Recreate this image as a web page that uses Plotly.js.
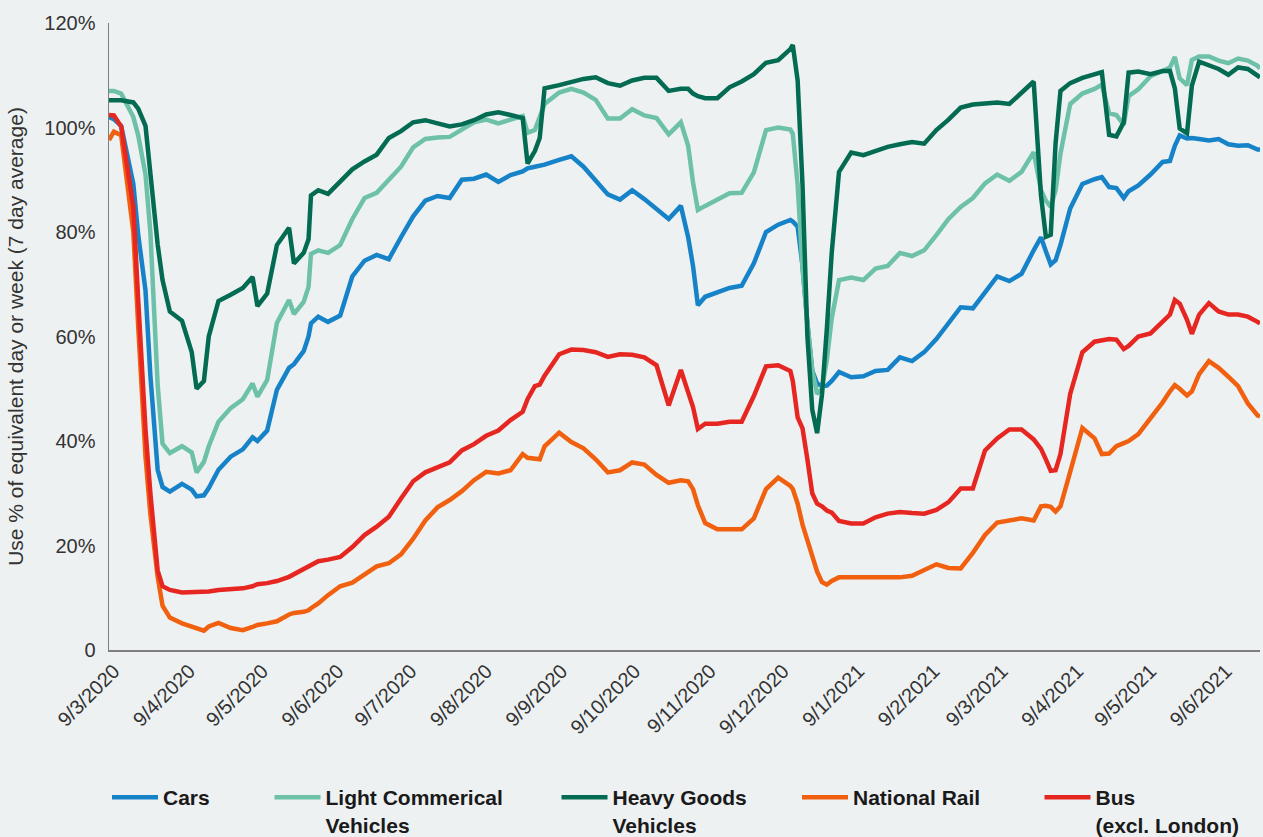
<!DOCTYPE html>
<html>
<head>
<meta charset="utf-8">
<script src="https://cdn.plot.ly/plotly-3.0.1.min.js"></script>
<style>html,body{margin:0;padding:0;background:#eef1f2;}#chart{width:1263px;height:837px;}</style>
</head>
<body>
<div id="chart"></div>
<script>
const dates = ['2020-03-07','2020-03-09','2020-03-12','2020-03-17','2020-03-19','2020-03-22','2020-03-24','2020-03-27','2020-03-29','2020-04-01',
'2020-04-06','2020-04-10','2020-04-12','2020-04-15','2020-04-17','2020-04-21','2020-04-26','2020-05-01','2020-05-05','2020-05-07',
'2020-05-11','2020-05-15','2020-05-20','2020-05-22','2020-05-26','2020-05-28','2020-05-29','2020-06-01','2020-06-05','2020-06-10',
'2020-06-15','2020-06-20','2020-06-25','2020-06-30','2020-07-05','2020-07-10','2020-07-15','2020-07-20','2020-07-25','2020-07-30',
'2020-08-04','2020-08-09','2020-08-14','2020-08-19','2020-08-24','2020-08-26','2020-08-29','2020-08-31','2020-09-02','2020-09-08',
'2020-09-13','2020-09-18','2020-09-23','2020-09-28','2020-10-03','2020-10-08','2020-10-13','2020-10-18','2020-10-23','2020-10-28',
'2020-10-31','2020-11-02','2020-11-04','2020-11-07','2020-11-12','2020-11-17','2020-11-22','2020-11-27','2020-12-02','2020-12-07',
'2020-12-12','2020-12-13','2020-12-15','2020-12-17','2020-12-19','2020-12-21','2020-12-23','2020-12-25','2020-12-27','2020-12-29',
'2021-01-01','2021-01-06','2021-01-11','2021-01-16','2021-01-21','2021-01-26','2021-01-31','2021-02-05','2021-02-10','2021-02-15',
'2021-02-20','2021-02-25','2021-03-02','2021-03-07','2021-03-12','2021-03-17','2021-03-22','2021-03-25','2021-03-27','2021-03-29',
'2021-03-31','2021-04-02','2021-04-06','2021-04-11','2021-04-16','2021-04-19','2021-04-22','2021-04-25','2021-04-28','2021-04-30',
'2021-05-04','2021-05-09','2021-05-14','2021-05-17','2021-05-19','2021-05-21','2021-05-24','2021-05-26','2021-05-29','2021-06-02',
'2021-06-06','2021-06-10','2021-06-14','2021-06-18','2021-06-22','2021-06-23'];

const cars = [102,101.6,100.3,89.2,79.5,68.8,52.5,34.5,31.2,30.3,
31.8,30.7,29.4,29.6,31,34.5,37,38.4,40.7,40,
42,49.8,54,54.7,57.2,60,62.5,63.8,62.8,64,
71.5,74.5,75.6,74.8,79,83,86,86.9,86.5,90,
90.2,91,89.6,90.9,91.6,92.2,92.5,92.6,92.9,93.8,
94.5,92.5,90,87.2,86.2,88,86.3,84.5,82.5,85,
79,73.5,66,67.6,68.5,69.3,69.7,74,80,81.4,
82.3,82,81,73.5,62.5,53.5,51,50.5,50.6,51.5,
53.2,52.2,52.4,53.4,53.6,56,55.3,57,59.5,62.5,
65.6,65.4,68.6,71.5,70.6,72,76.5,79,76.3,73.8,
74.6,77.5,84.5,89.2,90.1,90.5,88.6,88.4,86.5,87.8,
88.9,91,93.4,93.6,96.5,98.5,97.9,98,97.8,97.5,
97.8,96.8,96.5,96.6,95.8,95.8];

const lcv = [107,107,106.5,102,98.5,91,80,50.7,39.5,37.7,
39,37.8,34,36,39,43.7,46.3,48,51,48.5,
51.7,62.6,67,64.3,66.6,69.5,75.8,76.5,76,77.5,
82.5,86.5,87.5,90,92.5,96.2,97.8,98.1,98.2,99.6,
101,101.5,100.8,101.5,102.2,99,99.5,102,104.5,106.7,
107.4,106.7,105.3,101.7,101.7,103.5,102.3,101.8,98.7,101,
96.5,89.5,84.2,85,86.1,87.4,87.5,91.4,99.5,100,
99.6,98.8,89,73,62.5,53.5,49,50,55.5,63.5,
70.8,71.3,70.8,73,73.5,76,75.4,76.5,79.4,82.5,
84.8,86.5,89.3,91,89.8,91.5,95.3,88,86,84.8,
88,95,104.5,106.5,107.4,108.2,102.7,102.4,100.5,106,
107.3,109.8,110.8,111.5,113.5,109.4,108.1,112.9,113.6,113.6,
112.8,112.3,113.2,112.8,111.8,111.3];

const hgv = [105.2,105.2,105.2,104.8,103.6,100.3,91,77.6,70.8,64.8,
63,57,50,51.5,60,66.8,68,69.3,71.4,65.8,
68.2,77.5,80.8,74,76,78.6,87,88,87.3,89.6,
92,93.5,94.8,98,99.3,101,101.4,100.8,100.2,100.6,
101.4,102.5,102.9,102.4,101.8,93.1,95.5,98,107.5,108.1,
108.8,109.3,109.6,108.5,108,109,109.5,109.5,107,107.4,
107.4,106.5,106,105.6,105.6,107.7,108.8,110.2,112.4,112.9,
115,115.8,109,89,60,46,41.5,48.9,61.5,76,
91.5,95.2,94.7,95.6,96.3,96.8,97.2,96.9,99.5,101.5,
103.8,104.4,104.5,104.8,104.5,106.8,108.8,87,79.1,79.5,
97,107,108.5,109.5,110.2,110.6,98.6,98.3,101,110.5,
110.7,110.2,110.8,110.8,107.5,99.8,98.9,108,112.6,112,
111.2,110.1,111.5,111.2,109.7,109.6];

const rail = [97.6,99.2,98.5,80,62,37,26,14,8.5,6.2,
5.1,4.4,4,3.7,4.5,5.2,4.2,3.8,4.4,4.8,
5.1,5.5,6.8,7.1,7.3,7.6,8,8.9,10.5,12.2,
12.9,14.5,16,16.6,18.3,21.3,24.8,27.3,28.7,30.4,
32.5,34.1,33.8,34.4,37.5,36.8,36.5,36.5,39,41.6,
39.8,38.6,36.5,34,34.4,35.9,35.5,33.5,32,32.5,
32.3,30.8,27.7,24.3,23.1,23.1,23.1,25.2,30.8,33,
31.4,30.8,28,24,21,18.3,15,13,12.5,13.2,
13.9,13.9,13.9,13.9,13.9,13.9,14.2,15.3,16.4,15.7,
15.6,18.6,22,24.4,24.8,25.2,24.8,27.5,27.6,27.4,
26.5,27.5,34.1,42.5,40.5,37.5,37.6,39,39.6,40,
41.3,44.3,47.4,49.5,50.7,50,48.7,49.5,52.8,55.3,
54,52.3,50.5,47.2,44.9,44.7];

const bus = [102.4,102.3,100.2,84.8,67,42.2,30,15.2,12.2,11.5,
11,11,11,11,11.2,11.5,11.6,11.8,12.2,12.6,
12.8,13.2,14,14.5,15.6,16,16.2,17,17.3,17.8,
19.7,22,23.6,25.5,29,32.3,34,35,35.9,38.2,
39.4,41,42,44,45.6,48,50.5,50.8,52.5,56.6,
57.5,57.4,57,56.1,56.6,56.5,56,54.5,46.8,53.6,
49.7,46.5,42.3,43.3,43.3,43.7,43.7,48.6,54.3,54.5,
53.4,51.5,44.5,42.4,36.5,30,28,27.5,26.7,26.3,
24.7,24.2,24.2,25.4,26.1,26.4,26.2,26.1,26.8,28.3,
30.9,30.9,38.2,40.5,42.2,42.2,40.3,38.5,36.5,34.3,
34.4,37.5,49,57,59,59.2,59.5,59.4,57.6,58.2,
60,60.6,62.7,64.2,67,66.3,63.2,60.5,64.2,66.4,
64.8,64.2,64.2,63.8,62.8,62.5];

const seriesNames = ['Cars','Light Commerical<br>Vehicles','Heavy Goods<br>Vehicles','National Rail','Bus<br>(excl. London)'];
const seriesColors = ['#1682c8','#6cc1a8','#036b52','#f0600f','#e62621'];
const seriesValues = [cars, lcv, hgv, rail, bus];
const legendKeys = ['legend','legend2','legend3','legend4','legend5'];
const legendX = [107, 269.5, 556.5, 797, 1039.5];

const yTickVals = [0,20,40,60,80,100,120];
const yTickText = ['0','20%','40%','60%','80%','100%','120%'];

const traces = seriesValues.map((vals, i) => ({
  x: dates, y: vals, type: 'scatter', mode: 'lines', name: seriesNames[i],
  line: {color: seriesColors[i], width: 4.5},
  legend: legendKeys[i], hoverinfo: 'skip'
}));

const fontFam = '"Liberation Sans", Arial, Helvetica, sans-serif';
const layout = {
  width: 1263, height: 837,
  paper_bgcolor: '#eef1f2', plot_bgcolor: '#eef1f2',
  margin: {l: 109, r: 3, t: 23, b: 187},
  showlegend: true,
  font: {family: fontFam, color: '#333333', size: 20},
  xaxis: {
    type: 'date', range: ['2020-03-07','2021-06-23'],
    tick0: '2020-03-09', dtick: 'M1', tickformat: '%-d/%-m/%Y',
    tickangle: -45, showgrid: false, zeroline: false,
    showline: true, linecolor: '#7f7f7f', linewidth: 1.5,
    ticks: '', tickfont: {size: 20, color: '#333333'}
  },
  yaxis: {
    range: [0, 120], tickvals: yTickVals, ticktext: yTickText,
    showgrid: false, zeroline: false, showline: true, linecolor: '#7f7f7f', linewidth: 1.5,
    ticks: 'outside', ticklen: 8, tickcolor: 'rgba(0,0,0,0)',
    tickfont: {size: 20, color: '#333333'},
    title: {text: 'Use % of equivalent day or week (7 day average)', font: {size: 21, color: '#333333'}, standoff: 15}
  }
};
legendKeys.forEach((k, i) => {
  layout[k] = {
    xref: 'container', yref: 'container', x: legendX[i] / 1263, y: 1 - 777 / 837,
    xanchor: 'left', yanchor: 'top', orientation: 'h', bgcolor: 'rgba(0,0,0,0)',
    borderwidth: 0, itemwidth: 46, valign: 'top',
    font: {family: fontFam, size: 21, color: '#1a1a1a', weight: 'bold'}
  };
});

Plotly.newPlot('chart', traces, layout, {displayModeBar: false, staticPlot: true});
</script>
</body>
</html>
